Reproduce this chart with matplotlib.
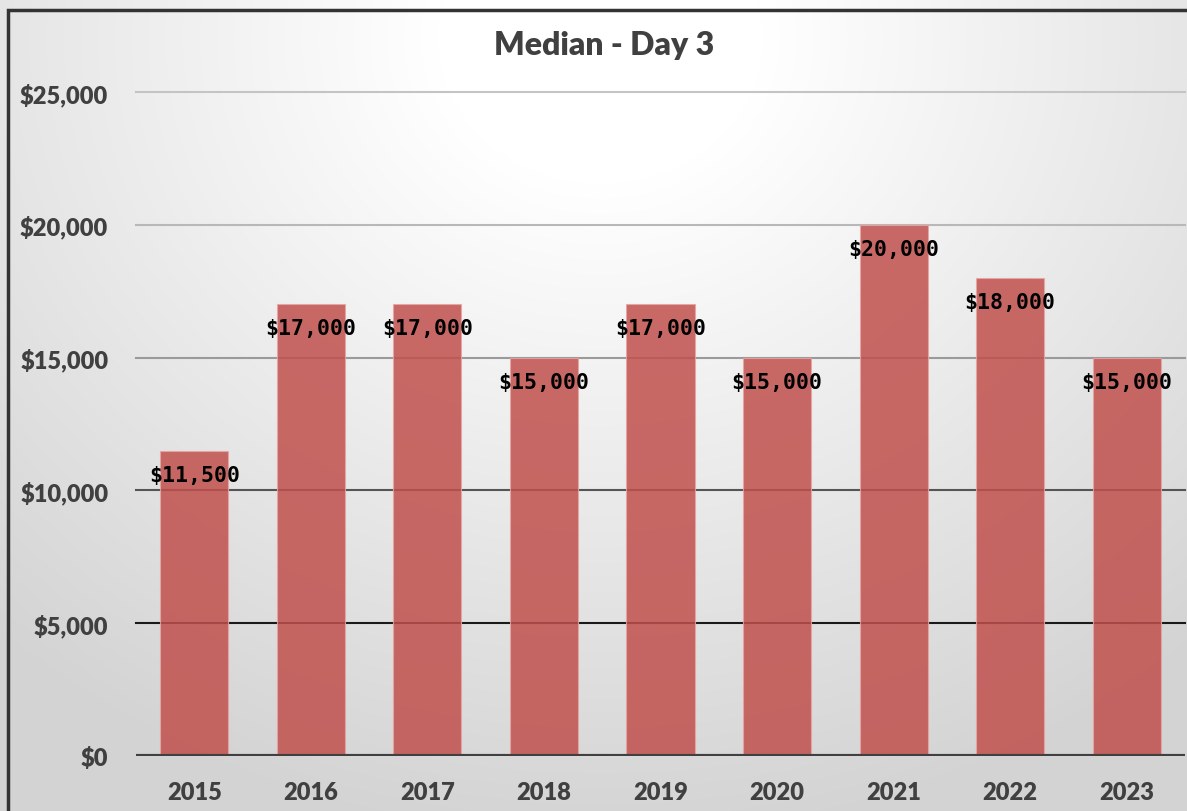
import numpy as np
import matplotlib
matplotlib.use("Agg")
import matplotlib.pyplot as plt
from matplotlib.patches import Rectangle
from matplotlib.ticker import FuncFormatter

years = ["2015", "2016", "2017", "2018", "2019", "2020", "2021", "2022", "2023"]
values = [11500, 17000, 17000, 15000, 17000, 15000, 20000, 18000, 15000]
yticks = [0, 5000, 10000, 15000, 20000, 25000]
title = "Median - Day 3"

W, H = 1187, 812
fig = plt.figure(figsize=(W / 100, H / 100), dpi=100)

# background radial gradient
bg = fig.add_axes([0, 0, 1, 1], zorder=-10)
yy, xx = np.mgrid[0:H, 0:W]
r = np.sqrt(((xx - 600) / 900.0) ** 2 + ((yy - 40) / 800.0) ** 2)
r = np.clip((r - 0.18) / 0.82, 0, 1)
g = 1.0 - 0.17 * r
img = np.dstack([g, g, g])
bg.imshow(img, aspect="auto", extent=[0, W, H, 0])
bg.set_axis_off()

# border
fig.patches.append(Rectangle((8 / W, -0.1), 1.2, (H - 11) / H + 0.1, transform=fig.transFigure,
                             fill=False, edgecolor="#333333", linewidth=2.5, zorder=5))

ax = fig.add_axes([136 / W, (H - 757) / H, (1185 - 136) / W, (757 - 93) / H * 1.0])
ax.set_facecolor("none")
x = np.arange(len(years))
ax.set_xlim(-0.5, len(years) - 0.5)
ax.set_ylim(0, 25000)

grid_colors = {5000: "#1a1a1a", 10000: "#555555", 15000: "#9a9a9a", 20000: "#b8b8b8", 25000: "#c4c4c4"}
for v, c in grid_colors.items():
    ax.axhline(v, color=c, linewidth=1.5, zorder=1, clip_on=False)

ax.bar(x, values, width=0.585, color="#C0504D", alpha=0.85, edgecolor="#E8A5A3", linewidth=0.8, zorder=2)
ax.axhline(0, color="#404040", linewidth=3, zorder=3)

for xi, v in zip(x, values):
    ax.annotate(f"${v:,}", (xi, v), xytext=(0, -24), textcoords="offset pixels",
                ha="center", va="center", fontsize=15.5, fontweight="bold",
                family="DejaVu Sans Mono", color="black", zorder=4)

ax.set_xticks(x)
ax.set_xticklabels(years)
ax.set_yticks(yticks)
ax.yaxis.set_major_formatter(FuncFormatter(lambda v, p: f"${int(v):,}"))
for lab in ax.get_xticklabels() + ax.get_yticklabels():
    lab.set_fontfamily("Lato")
    lab.set_fontweight("heavy")
    lab.set_fontsize(17)
    lab.set_color("#404040")
ax.tick_params(axis="both", length=0)
ax.tick_params(axis="y", pad=20)
ax.tick_params(axis="x", pad=18)
for s in ax.spines.values():
    s.set_visible(False)

fig.text(604 / W, 1 - 45 / H, title, ha="center", va="center", fontsize=23,
         fontweight="heavy", family="Lato", color="#404040")

fig.savefig("out.png", dpi=100)
